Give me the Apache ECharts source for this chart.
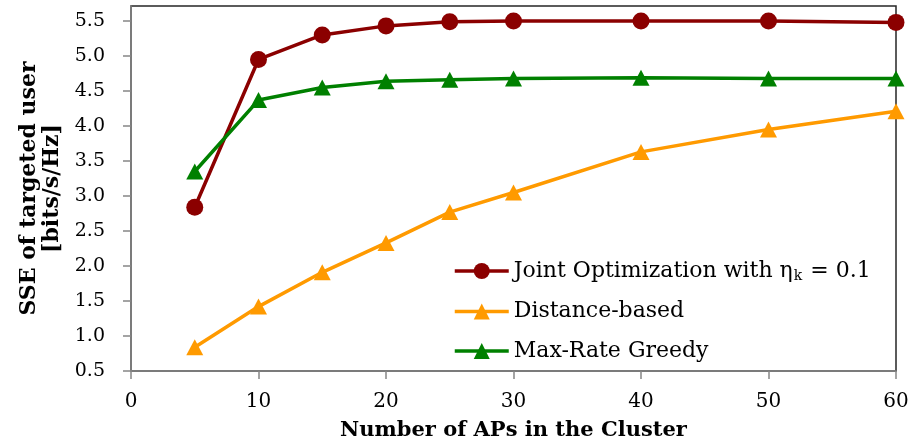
<!DOCTYPE html>
<html>
<head>
<meta charset="utf-8">
<script src="https://cdn.jsdelivr.net/npm/echarts@6/dist/echarts.min.js"></script>
<style>
  html, body { margin: 0; padding: 0; background: #fff; }
  #chart { width: 908px; height: 445px; }
</style>
</head>
<body>
<div id="chart"></div>
<script>
// Cluster sizes (number of APs) on the x axis
const apCounts = [5, 10, 15, 20, 25, 30, 40, 50, 60];

// SSE of the targeted user, bits/s/Hz
const jointOpt = [2.84, 4.95, 5.30, 5.43, 5.49, 5.50, 5.50, 5.50, 5.48];
const distanceBased = [0.84, 1.42, 1.91, 2.33, 2.77, 3.05, 3.63, 3.95, 4.21];
const maxRateGreedy = [3.35, 4.37, 4.55, 4.64, 4.66, 4.68, 4.69, 4.68, 4.68];

// Axis tick values
const xTicks = [0, 10, 20, 30, 40, 50, 60];
const yTicks = [0.5, 1.0, 1.5, 2.0, 2.5, 3.0, 3.5, 4.0, 4.5, 5.0, 5.5];

const seriesNames = ['Joint Optimization with ηk = 0.1', 'Distance-based', 'Max-Rate Greedy'];

const FONT = 'DejaVu Serif';
const pair = (xs, ys) => xs.map((x, i) => [x, ys[i]]);

const chart = echarts.init(document.getElementById('chart'), null, { renderer: 'canvas' });

chart.setOption({
  animation: false,
  backgroundColor: '#ffffff',
  grid: {
    left: 131, right: 12, top: 6, bottom: 74,
    outerBoundsMode: 'none', containLabel: false,
    show: true, borderColor: '#262626', borderWidth: 1.5, backgroundColor: 'transparent'
  },
  xAxis: {
    type: 'value', min: 0, max: 60, interval: 10,
    name: 'Number of APs in the Cluster',
    nameLocation: 'middle', nameGap: 49,
    nameTextStyle: { fontFamily: FONT, fontWeight: 'bold', fontSize: 21, color: '#000' },
    axisLine: { show: true, onZero: false, lineStyle: { color: '#868686', width: 1.5 } },
    axisTick: { show: true, inside: false, length: 8, lineStyle: { color: '#868686', width: 1.5 }, customValues: xTicks },
    axisLabel: { fontFamily: FONT, fontSize: 20, color: '#000', margin: 21, customValues: xTicks },
    splitLine: { show: false }
  },
  yAxis: {
    type: 'value', min: 0.5, max: 5.714, interval: 0.5,
    name: 'SSE of targeted user\n[bits/s/Hz]',
    nameLocation: 'middle', nameGap: 67, nameRotate: 90,
    nameTextStyle: { fontFamily: FONT, fontWeight: 'bold', fontSize: 22, color: '#000', lineHeight: 23 },
    axisLine: { show: true, onZero: false, lineStyle: { color: '#868686', width: 1.5 } },
    axisTick: { show: true, inside: false, length: 8, lineStyle: { color: '#868686', width: 1.5 }, customValues: yTicks },
    axisLabel: {
      fontFamily: FONT, fontSize: 19, color: '#000', margin: 26,
      customValues: yTicks,
      formatter: v => Number(v).toFixed(1)
    },
    splitLine: { show: false }
  },
  legend: {
    orient: 'vertical', left: 448, top: 255,
    itemWidth: 54, itemHeight: 20, itemGap: 17.5,
    data: seriesNames,
    lineStyle: { width: 3.5 },
    formatter: name => name === seriesNames[0]
      ? '{t|Joint Optimization with η}{s|k}{t| = 0.1}'
      : '{t|' + name + '}',
    textStyle: {
      fontFamily: FONT, fontSize: 22, color: '#000', lineHeight: 22,
      rich: {
        t: { fontFamily: FONT, fontSize: 22, color: '#000', lineHeight: 22 },
        s: { fontFamily: FONT, fontSize: 14, color: '#000', padding: [10, 1, 0, 1] }
      }
    }
  },
  series: [
    {
      name: seriesNames[0], type: 'line', data: pair(apCounts, jointOpt),
      symbol: 'circle', symbolSize: 17,
      lineStyle: { color: '#8B0000', width: 3.5 },
      itemStyle: { color: '#8B0000' }
    },
    {
      name: seriesNames[1], type: 'line', data: pair(apCounts, distanceBased),
      symbol: 'triangle', symbolSize: [17, 16],
      lineStyle: { color: '#FF9A00', width: 3.5 },
      itemStyle: { color: '#FF9A00' }
    },
    {
      name: seriesNames[2], type: 'line', data: pair(apCounts, maxRateGreedy),
      symbol: 'triangle', symbolSize: [17, 16],
      lineStyle: { color: '#008000', width: 3.5 },
      itemStyle: { color: '#008000' }
    }
  ]
});
</script>
</body>
</html>
